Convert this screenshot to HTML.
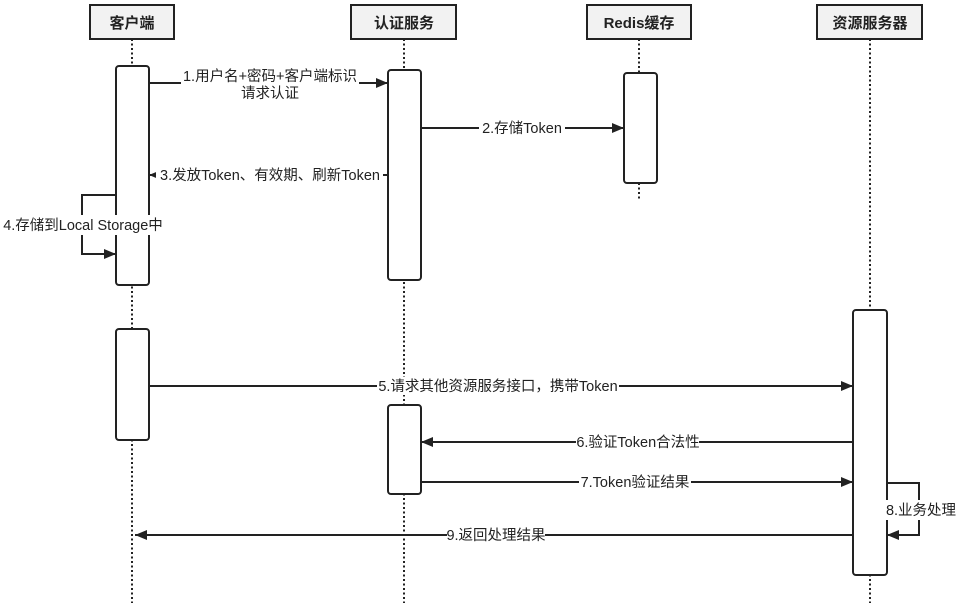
<!DOCTYPE html>
<html><head><meta charset="utf-8"><style>
html,body{margin:0;padding:0;background:#fff;}
svg{display:block;}
text{font-family:"Liberation Sans","Noto Sans CJK SC",sans-serif;font-size:14.5px;fill:#222;}
.h{font-weight:bold;font-size:15px;}
</style></head><body>
<svg width="964" height="613" viewBox="0 0 964 613" xmlns="http://www.w3.org/2000/svg">
<defs><marker id="a" markerWidth="12" markerHeight="10" refX="12" refY="5" orient="auto" markerUnits="userSpaceOnUse"><path d="M0,0 L12,5 L0,10 Z" fill="#222"/></marker></defs>
<g stroke="#222" stroke-width="2" stroke-dasharray="2,2.5">
<line x1="132" y1="39" x2="132" y2="603"/>
<line x1="404" y1="39" x2="404" y2="603"/>
<line x1="639" y1="39" x2="639" y2="200"/>
<line x1="870" y1="39" x2="870" y2="603"/>
</g>
<g fill="#f2f2f2" stroke="#222" stroke-width="2">
<rect x="90" y="5" width="84" height="34"/>
<rect x="351" y="5" width="105" height="34"/>
<rect x="587" y="5" width="104" height="34"/>
<rect x="817" y="5" width="105" height="34"/>
</g>
<text class="h" x="132" y="28" text-anchor="middle">客户端</text>
<text class="h" x="404" y="28" text-anchor="middle">认证服务</text>
<text class="h" x="639" y="28" text-anchor="middle">Redis缓存</text>
<text class="h" x="870" y="28" text-anchor="middle">资源服务器</text>
<g fill="#fff" stroke="#222" stroke-width="2">
<rect x="116" y="66" width="33" height="219" rx="3"/>
<rect x="388" y="70" width="33" height="210" rx="3"/>
<rect x="624" y="73" width="33" height="110" rx="3"/>
<rect x="853" y="310" width="34" height="265" rx="3"/>
<rect x="116" y="329" width="33" height="111" rx="3"/>
<rect x="388" y="405" width="33" height="89" rx="3"/>
</g>
<g stroke="#222" stroke-width="2" fill="none">
<line x1="149" y1="83" x2="388" y2="83" marker-end="url(#a)"/>
<line x1="421" y1="128" x2="624" y2="128" marker-end="url(#a)"/>
<line x1="388" y1="175" x2="149" y2="175" marker-end="url(#a)"/>
<polyline points="116,195 82,195 82,254 116,254" marker-end="url(#a)"/>
<line x1="149" y1="386" x2="853" y2="386" marker-end="url(#a)"/>
<line x1="853" y1="442" x2="421" y2="442" marker-end="url(#a)"/>
<line x1="421" y1="482" x2="853" y2="482" marker-end="url(#a)"/>
<polyline points="887,483 919,483 919,535 887,535" marker-end="url(#a)"/>
<line x1="853" y1="535" x2="135" y2="535" marker-end="url(#a)"/>
</g>
<g fill="#fff">
<rect x="181" y="68" width="178" height="18"/>
<rect x="479" y="119" width="86" height="18"/>
<rect x="156" y="166" width="227" height="18"/>
<rect x="3" y="215" width="160" height="20"/>
<rect x="377" y="377" width="242" height="18"/>
<rect x="576" y="433" width="123" height="18"/>
<rect x="579" y="473" width="112" height="18"/>
<rect x="886" y="500" width="72" height="20"/>
<rect x="447" y="526" width="98" height="18"/>
</g>
<text x="270" y="81" text-anchor="middle">1.用户名+密码+客户端标识</text>
<text x="270" y="98" text-anchor="middle">请求认证</text>
<text x="522" y="133" text-anchor="middle">2.存储Token</text>
<text x="270" y="180" text-anchor="middle">3.发放Token、有效期、刷新Token</text>
<text x="83" y="230" text-anchor="middle">4.存储到Local Storage中</text>
<text x="498" y="391" text-anchor="middle">5.请求其他资源服务接口，携带Token</text>
<text x="638" y="447" text-anchor="middle">6.验证Token合法性</text>
<text x="635" y="487" text-anchor="middle">7.Token验证结果</text>
<text x="921" y="515" text-anchor="middle">8.业务处理</text>
<text x="496" y="540" text-anchor="middle">9.返回处理结果</text>
</svg>
</body></html>
